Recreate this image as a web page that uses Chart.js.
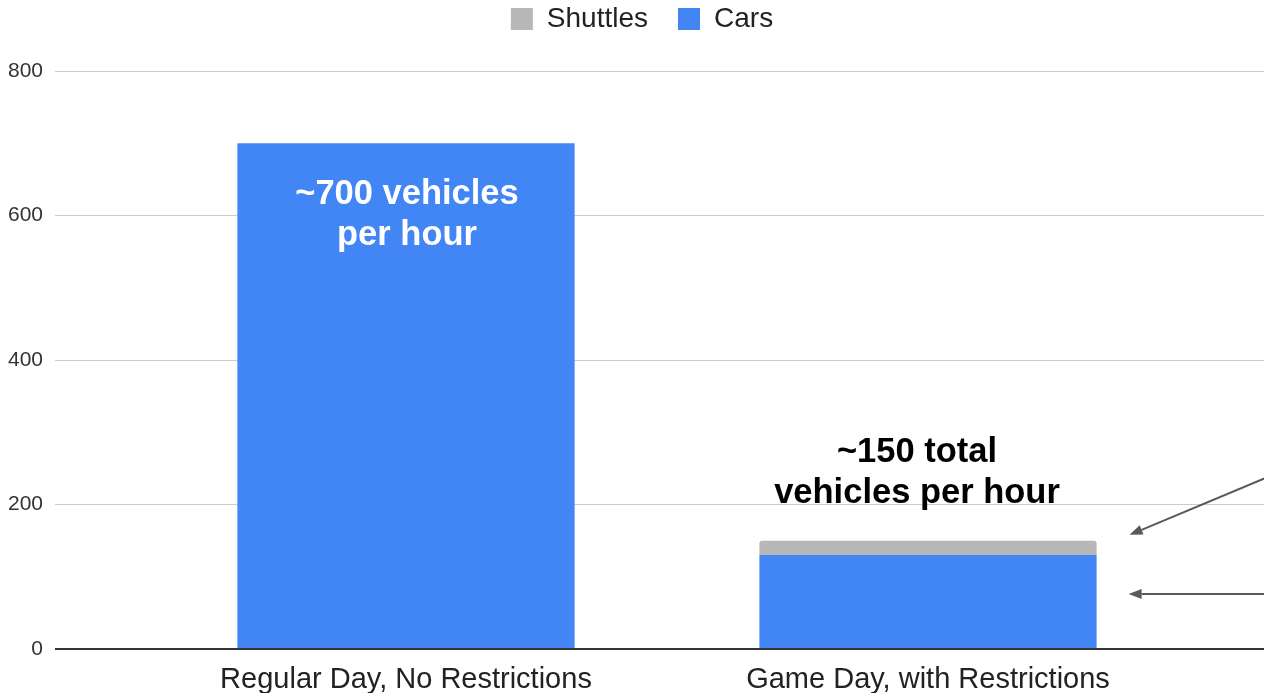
<!DOCTYPE html>
<html lang="en">
<head>
  <meta charset="UTF-8">
  <title>Vehicles per hour</title>
  <script src="https://cdn.jsdelivr.net/npm/chart.js@4.4.1/dist/chart.umd.min.js"></script>
  <style>
    html, body { margin: 0; padding: 0; background: #fff; overflow: hidden; }
    #wrap { width: 1264px; height: 693px; }
  </style>
</head>
<body>
  <div id="wrap"><canvas id="vehicleChart"></canvas></div>

  <script>
    // DATA
    const days = ["Regular Day, No Restrictions", "Game Day, with Restrictions"];
    const cars = [700, 130];
    const shuttles = [0, 20];
    const yTicks = [0, 200, 400, 600, 800];

    // callout texts
    const calloutInside = ["~700 vehicles", "per hour"];
    const calloutAbove = ["~150 total", "vehicles per hour"];

    const FONT = "'Liberation Sans', Arial, sans-serif";
    const gridColor = (ctx) => (ctx.tick && ctx.tick.value === 0) ? "#333333" : "#cccccc";
    const gridWidth = (ctx) => (ctx.tick && ctx.tick.value === 0) ? 2 : 1;

    // move the legend up closer to the top edge (keeps chart area where it is)
    const legendNudge = {
      id: "legendNudge",
      afterLayout(chart) {
        const lg = chart.legend;
        lg.top -= 28; lg.bottom -= 28;
        lg.left += 10; lg.right += 10;
      }
    };

    // draws the text labels + arrows on top of the bars
    const calloutPlugin = {
      id: "callouts",
      afterDatasetsDraw(chart) {
        const c = chart.ctx;
        const y = chart.scales.y;
        const carsMeta = chart.getDatasetMeta(0);
        const shutMeta = chart.getDatasetMeta(1);
        c.save();
        c.textAlign = "center";
        c.textBaseline = "middle";
        c.font = "bold 34.5px " + FONT;

        // inside the first bar
        const b0 = carsMeta.data[0];
        c.fillStyle = "#ffffff";
        c.fillText(calloutInside[0], b0.x + 1, b0.y + 51);
        c.fillText(calloutInside[1], b0.x + 1, b0.y + 92);

        // above the second bar
        const b1 = shutMeta.data[1];
        c.fillStyle = "#000000";
        c.fillText(calloutAbove[0], b1.x - 11, b1.y - 88);
        c.fillText(calloutAbove[1], b1.x - 11, b1.y - 47);

        // arrows coming in from the right edge
        const right = b1.x + b1.width / 2;
        const arrow = (x1, y1, x2, y2) => {
          const a = Math.atan2(y2 - y1, x2 - x1);
          const len = 13, half = 5;
          const bx = x2 - len * Math.cos(a), by = y2 - len * Math.sin(a);
          c.strokeStyle = "#595959";
          c.fillStyle = "#595959";
          c.lineWidth = 2;
          c.beginPath();
          c.moveTo(x1, y1);
          c.lineTo(bx, by);
          c.stroke();
          c.beginPath();
          c.moveTo(x2, y2);
          c.lineTo(bx + half * Math.sin(a), by - half * Math.cos(a));
          c.lineTo(bx - half * Math.sin(a), by + half * Math.cos(a));
          c.closePath();
          c.fill();
        };
        arrow(chart.width + 2, y.getPixelForValue(237), right + 33, y.getPixelForValue(158));
        arrow(chart.width + 2, y.getPixelForValue(76), right + 32, y.getPixelForValue(76));
        c.restore();
      }
    };

    new Chart("vehicleChart", {
      type: "bar",
      data: {
        labels: days,
        datasets: [
          {
            label: "Cars",
            data: cars,
            backgroundColor: "#4285f4"
          },
          {
            label: "Shuttles",
            data: shuttles,
            backgroundColor: "#b7b7b7",
            borderRadius: { topLeft: 3, topRight: 3, bottomLeft: 0, bottomRight: 0 },
            borderSkipped: false
          }
        ]
      },
      options: {
        responsive: true,
        maintainAspectRatio: false,
        animation: false,
        events: [],
        layout: { padding: { left: 0, right: 0, top: 3, bottom: 0 } },
        datasets: { bar: { barPercentage: 1, categoryPercentage: 0.646 } },
        plugins: {
          legend: {
            position: "top",
            labels: {
              font: { family: FONT, size: 28 },
              color: "#222222",
              boxWidth: 22,
              boxHeight: 22,
              padding: 30,
              // shuttles listed first, like the reference
              sort: (a, b) => b.datasetIndex - a.datasetIndex
            }
          },
          tooltip: { enabled: false }
        },
        scales: {
          x: {
            stacked: true,
            grid: { display: false, drawTicks: false },
            border: { display: false },
            ticks: { font: { family: FONT, size: 29 }, color: "#222222", padding: 14 },
            afterFit: (s) => { s.height = 44; }
          },
          y: {
            stacked: true,
            position: "left",
            min: 0,
            max: 800,
            afterBuildTicks: (s) => { s.ticks = yTicks.map(v => ({ value: v })); },
            ticks: { font: { family: FONT, size: 21 }, color: "#333333", padding: 12 },
            grid: { color: gridColor, tickColor: gridColor, lineWidth: gridWidth, tickLength: 90 },
            border: { display: false },
            afterFit: (s) => { s.width = 145; }
          },
          y2: {
            position: "right",
            min: 0,
            max: 800,
            afterBuildTicks: (s) => { s.ticks = yTicks.map(v => ({ value: v })); },
            ticks: { display: false },
            grid: { drawOnChartArea: false, color: gridColor, tickColor: gridColor, lineWidth: gridWidth, tickLength: 75 },
            border: { display: false },
            afterFit: (s) => { s.width = 75; }
          }
        }
      },
      plugins: [calloutPlugin, legendNudge]
    });
  </script>
</body>
</html>
